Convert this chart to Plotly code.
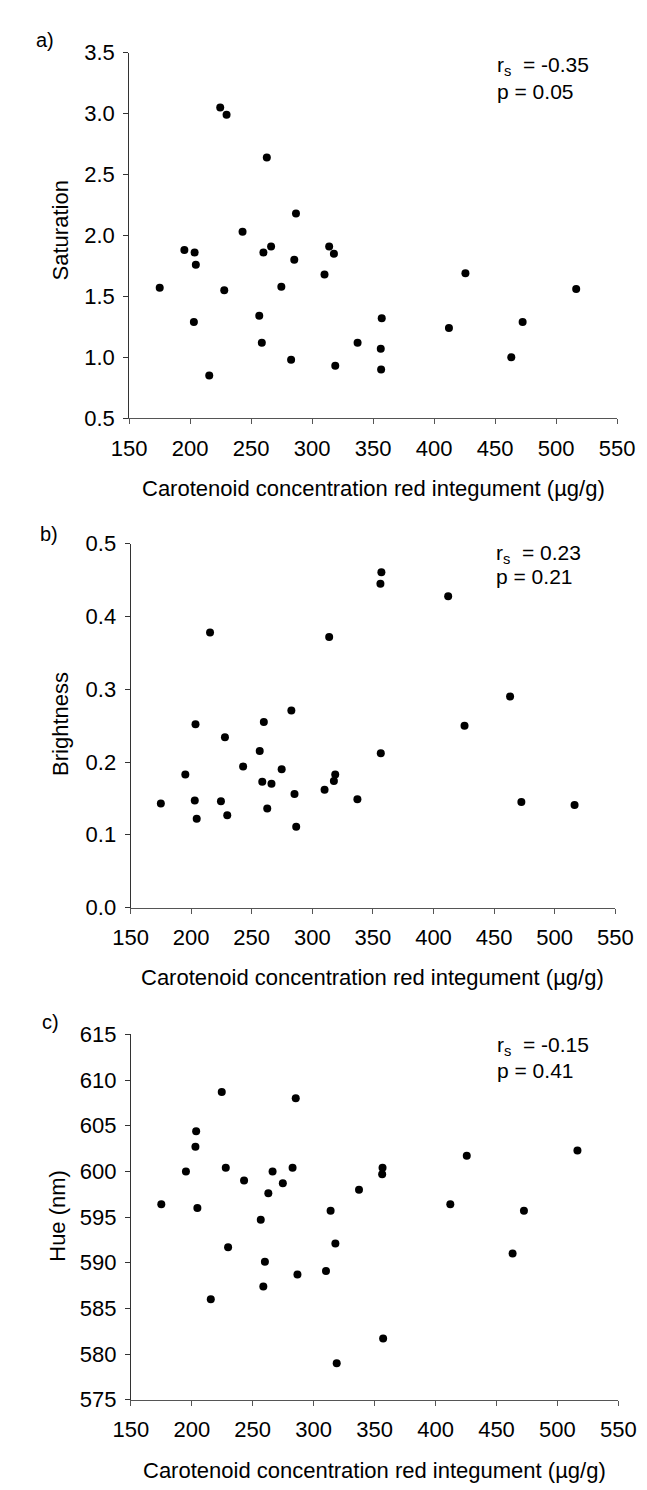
import plotly.graph_objects as go

W, H = 647, 1490

# ---- data ----
carotenoid = [175.0, 195.2, 203.0, 203.6, 204.6, 215.6, 224.6, 227.9, 229.8, 242.9,
              256.6, 258.7, 260.0, 262.8, 266.3, 274.7, 282.7, 285.3, 286.7, 310.1,
              313.9, 317.8, 318.9, 337.2, 356.2, 356.5, 357.0, 412.1, 425.6, 463.2,
              472.5, 516.4]
saturation = [1.57, 1.88, 1.29, 1.86, 1.76, 0.85, 3.05, 1.55, 2.99, 2.03,
              1.34, 1.12, 1.86, 2.64, 1.91, 1.58, 0.98, 1.80, 2.18, 1.68,
              1.91, 1.85, 0.93, 1.12, 1.07, 0.90, 1.32, 1.24, 1.69, 1.00,
              1.29, 1.56]
brightness = [0.143, 0.183, 0.147, 0.252, 0.122, 0.378, 0.146, 0.234, 0.127, 0.194,
              0.215, 0.173, 0.255, 0.136, 0.170, 0.190, 0.271, 0.156, 0.111, 0.162,
              0.372, 0.174, 0.183, 0.149, 0.445, 0.212, 0.461, 0.428, 0.250, 0.290,
              0.145, 0.141]
hue = [596.4, 600.0, 602.7, 604.4, 596.0, 586.0, 608.7, 600.4, 591.7, 599.0,
       594.7, 587.4, 590.1, 597.6, 600.0, 598.7, 600.4, 608.0, 588.7, 589.1,
       595.7, 592.1, 579.0, 598.0, 599.7, 600.4, 581.7, 596.4, 601.7, 591.0,
       595.7, 602.3]

panel_labels = ["a)", "b)", "c)"]
y_titles = ["Saturation", "Brightness", "Hue (nm)"]
x_title = "Carotenoid concentration red integument (\u00b5g/g)"
x_ticks = [150, 200, 250, 300, 350, 400, 450, 500, 550]
y_ticks = [[0.5, 1.0, 1.5, 2.0, 2.5, 3.0, 3.5],
           [0.0, 0.1, 0.2, 0.3, 0.4, 0.5],
           [575, 580, 585, 590, 595, 600, 605, 610, 615]]
y_formats = [".1f", ".1f", "d"]
rs_text = ["-0.35", "0.23", "-0.15"]
p_text = ["0.05", "0.21", "0.41"]
series = [saturation, brightness, hue]

# ---- layout geometry (pixels) ----
px_x = [(109.3, 626.0), (110.7, 624.0), (111.0, 627.3)]
px_y = [(33.3, 405.0), (532.7, 902.7), (1031.7, 1403.3)]
label_pos = [(9, 20), (13, 523), (15, 1019)]
ytitle_pos = [(36, 214), (37, 716), (33, 1216)]
xtitle_y = [477, 974, 1475]
stat_pos = [(497, 46.7, 72.8), (496, 543, 565.8), (497, 1044, 1068.6)]

FONT = "Liberation Sans, Arial, sans-serif"
FS_TICK = 22
FS_TITLE = 22
FS_STAT = 21
FS_LABEL = 20

fig = go.Figure()
annotations = []
layout_axes = {}
for i in range(3):
    sfx = "" if i == 0 else str(i + 1)
    fig.add_trace(go.Scatter(
        x=carotenoid, y=series[i], mode="markers",
        marker=dict(color="black", size=8, line=dict(width=0)),
        xaxis="x" + sfx, yaxis="y" + sfx, showlegend=False, cliponaxis=False))
    x0, x1 = px_x[i]
    ytop, ybot = px_y[i]
    layout_axes["xaxis" + sfx] = dict(
        domain=[x0 / W, x1 / W], range=[150, 550], anchor="y" + sfx,
        tickmode="array", tickvals=x_ticks, ticks="outside", ticklen=5,
        tickcolor="#555", tickwidth=1, showline=True, linecolor="#555", linewidth=1,
        showgrid=False, zeroline=False, ticklabelstandoff=5,
        tickfont=dict(family=FONT, size=FS_TICK, color="black"), fixedrange=True)
    layout_axes["yaxis" + sfx] = dict(
        domain=[1 - ybot / H, 1 - ytop / H], range=[y_ticks[i][0], y_ticks[i][-1]],
        anchor="x" + sfx, tickmode="array", tickvals=y_ticks[i], tickformat=y_formats[i],
        ticks="outside", ticklen=5, tickcolor="#333", tickwidth=1,
        showline=True, linecolor="#333", linewidth=1, showgrid=False, zeroline=False,
        ticklabelstandoff=4,
        tickfont=dict(family=FONT, size=FS_TICK, color="black"), fixedrange=True)

    lx, ly = label_pos[i]
    annotations.append(dict(text=panel_labels[i], x=lx / W, y=1 - ly / H, xref="paper",
                            yref="paper", xanchor="left", yanchor="middle", showarrow=False,
                            font=dict(family=FONT, size=FS_LABEL, color="black")))
    tx, ty = ytitle_pos[i]
    annotations.append(dict(text=y_titles[i], x=tx / W, y=1 - ty / H, xref="paper",
                            yref="paper", xanchor="center", yanchor="middle", textangle=-90,
                            showarrow=False, font=dict(family=FONT, size=FS_TITLE, color="black")))
    annotations.append(dict(text=x_title, x=(x0 + x1) / 2 / W, y=1 - xtitle_y[i] / H,
                            xref="paper", yref="paper", xanchor="center", yanchor="middle",
                            showarrow=False, font=dict(family=FONT, size=FS_TITLE, color="black")))
    sx, sy1, sy2 = stat_pos[i]
    annotations.append(dict(text="r<sub>s</sub>\u00a0\u00a0= " + rs_text[i], x=sx / W,
                            y=1 - sy1 / H, xref="paper", yref="paper", xanchor="left",
                            yanchor="middle", showarrow=False,
                            font=dict(family=FONT, size=FS_STAT, color="black")))
    annotations.append(dict(text="p = " + p_text[i], x=sx / W, y=1 - sy2 / H,
                            xref="paper", yref="paper", xanchor="left", yanchor="middle",
                            showarrow=False, font=dict(family=FONT, size=FS_STAT, color="black")))

fig.update_layout(
    width=W, height=H, margin=dict(l=0, r=0, t=0, b=0),
    paper_bgcolor="white", plot_bgcolor="white",
    annotations=annotations, showlegend=False, **layout_axes)

fig.write_html("out.html")
